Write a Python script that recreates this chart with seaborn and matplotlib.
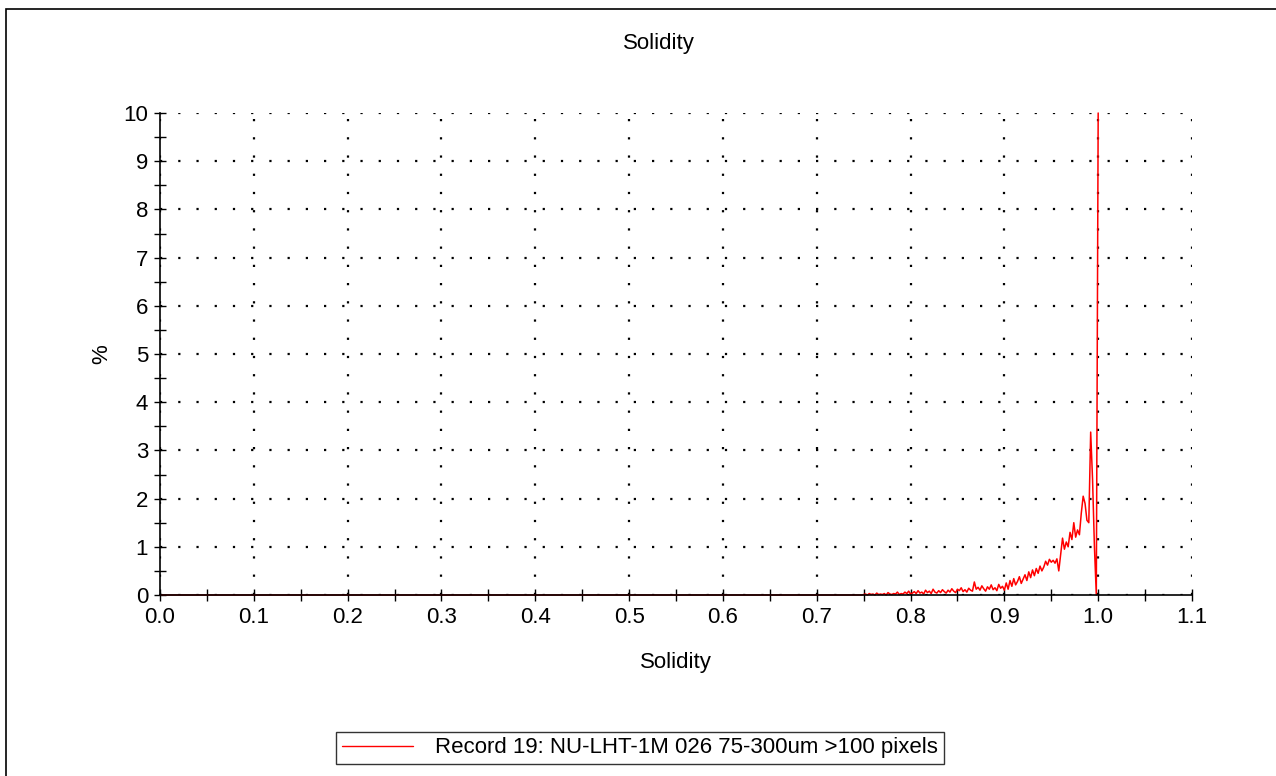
import matplotlib
matplotlib.use('Agg')
import matplotlib.pyplot as plt
from matplotlib.patches import Rectangle
from matplotlib.ticker import MultipleLocator, FormatStrFormatter
import numpy as np
import pandas as pd
import seaborn as sns

# Flat part of the distribution (nothing below ~0.75)
flat_x = [0.0, 0.748]
flat_pct = [0.0, 0.0]

# Noisy tail, one reading every 0.002 from 0.750 to 1.000
tail_pct = [
    0.01, 0.02, 0.00, 0.03, 0.01, 0.02, 0.00, 0.04, 0.01, 0.02,
    0.01, 0.03, 0.00, 0.05, 0.02, 0.01, 0.03, 0.02, 0.06, 0.01, 0.03,
    0.02, 0.06, 0.03, 0.08, 0.02, 0.04, 0.07, 0.03, 0.09, 0.04,
    0.06, 0.02, 0.10, 0.05, 0.08, 0.03, 0.12, 0.06, 0.04, 0.09,
    0.05, 0.11, 0.07, 0.04, 0.10, 0.06, 0.13, 0.08, 0.05, 0.12,
    0.09, 0.15, 0.07, 0.11, 0.06, 0.14, 0.10, 0.08, 0.27, 0.12,
    0.16, 0.10, 0.19, 0.13, 0.08, 0.17, 0.12, 0.21, 0.11, 0.15,
    0.09, 0.22, 0.14, 0.18, 0.10,
    0.25, 0.12, 0.30, 0.18, 0.34, 0.21, 0.28, 0.38, 0.24, 0.33,
    0.42, 0.30, 0.48, 0.36, 0.52,
    0.40, 0.55, 0.45, 0.60, 0.50, 0.58, 0.70, 0.62, 0.74, 0.68,
    0.72, 0.66, 0.75, 0.50, 0.85, 1.18, 0.95, 1.10, 1.00, 1.30,
    1.15, 1.50, 1.20, 1.35, 1.25, 1.70, 2.05, 1.90, 1.55, 1.50,
    3.38, 2.40, 1.00, 0.00, 10.0,
]
tail_x = list(np.round(0.75 + 0.002 * np.arange(len(tail_pct)), 3))

df = pd.DataFrame({'solidity': flat_x + tail_x, 'pct': flat_pct + tail_pct})

sns.set_style('white')
plt.rcParams['font.family'] = ['Liberation Sans', 'DejaVu Sans']
plt.rcParams['text.color'] = 'black'
plt.rcParams['axes.labelcolor'] = 'black'
plt.rcParams['xtick.color'] = 'black'
plt.rcParams['ytick.color'] = 'black'

fs = 16

fig = plt.figure(figsize=(12.76, 7.76), dpi=100)
ax = fig.add_axes([160 / 1276, 181 / 776, 1032 / 1276, 482 / 776])

sns.lineplot(data=df, x='solidity', y='pct', color='red', lw=1.1, ax=ax,
             label='Record 19: NU-LHT-1M 026 75-300um >100 pixels', legend=False,
             zorder=2, clip_on=False)

ax.set_xlim(0, 1.1)
ax.set_ylim(0, 10)
ax.xaxis.set_major_locator(MultipleLocator(0.1))
ax.xaxis.set_minor_locator(MultipleLocator(0.05))
ax.yaxis.set_major_locator(MultipleLocator(1))
ax.yaxis.set_minor_locator(MultipleLocator(0.5))
ax.xaxis.set_major_formatter(FormatStrFormatter('%.1f'))

for s in ['top', 'right']:
    ax.spines[s].set_visible(False)
for s in ['left', 'bottom']:
    ax.spines[s].set_color('black')
    ax.spines[s].set_linewidth(1.2)
    ax.spines[s].set_zorder(3)

ax.tick_params(which='both', direction='inout', color='black', width=1, left=True, bottom=True)
ax.tick_params(which='major', length=9, labelsize=fs, pad=4)
ax.tick_params(which='minor', length=9)

ax.grid(True, which='major', color='black', lw=1.6, linestyle=(0, (1, 7.2)))

ax.set_xlabel('Solidity', fontsize=fs)
ax.set_ylabel('%', fontsize=fs)
ax.xaxis.set_label_coords(0.5, -0.118)
ax.yaxis.set_label_coords(-0.046, 0.5)

fig.text(659 / 1276, 1 - 44 / 776, 'Solidity', ha='center', va='center', fontsize=fs)

leg = fig.legend(loc='center', bbox_to_anchor=(640 / 1276, 1 - 748 / 776), fontsize=fs,
                 frameon=True, fancybox=False, edgecolor='black', handlelength=3.2,
                 handletextpad=1.0, borderpad=0.25, borderaxespad=0)
leg.get_frame().set_linewidth(1.0)
for line in leg.get_lines():
    line.set_linewidth(1.0)

# partial frame around the whole picture
fig.add_artist(Rectangle((6 / 1276, -0.5), 2, 0.5 + (1 - 9 / 776), transform=fig.transFigure,
                         fill=False, edgecolor='black', lw=1.2))

fig.savefig('out.png', dpi=100)
